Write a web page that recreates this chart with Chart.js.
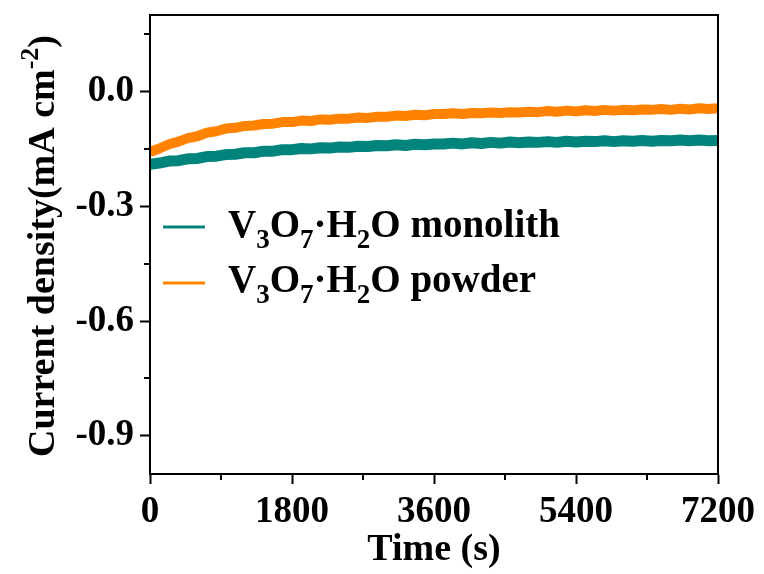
<!DOCTYPE html>
<html>
<head>
<meta charset="utf-8">
<script src="https://cdn.jsdelivr.net/npm/chart.js@4"></script>
<style>
  html, body { margin: 0; padding: 0; background: #fff; }
  #wrap { width: 764px; height: 574px; }
</style>
</head>
<body>
<div id="wrap"><canvas id="chart" width="764" height="574"></canvas></div>
<script>
// time axis (s)
const times = [0, 120, 240, 360, 480, 600, 720, 840, 960, 1080, 1200, 1320, 1440, 1560, 1680, 1800,
  1920, 2040, 2160, 2280, 2400, 2520, 2640, 2760, 2880, 3000, 3120, 3240, 3360, 3480, 3600,
  3720, 3840, 3960, 4080, 4200, 4320, 4440, 4560, 4680, 4800, 4920, 5040, 5160, 5280, 5400,
  5520, 5640, 5760, 5880, 6000, 6120, 6240, 6360, 6480, 6600, 6720, 6840, 6960, 7080, 7200];

// current density (mA cm-2)
const monolith = [-0.190, -0.187, -0.182, -0.181, -0.176, -0.175, -0.170, -0.169, -0.165, -0.164, -0.160, -0.160, -0.156, -0.156, -0.152, -0.152,
  -0.149, -0.150, -0.147, -0.148, -0.145, -0.146, -0.143, -0.144, -0.141, -0.142, -0.139, -0.141, -0.138, -0.139, -0.137,
  -0.137, -0.135, -0.137, -0.134, -0.136, -0.133, -0.135, -0.132, -0.134, -0.132, -0.133, -0.131, -0.133, -0.130, -0.132,
  -0.130, -0.131, -0.129, -0.131, -0.129, -0.130, -0.128, -0.130, -0.128, -0.129, -0.127, -0.129, -0.127, -0.129, -0.128];

const powder = [-0.158, -0.149, -0.138, -0.131, -0.122, -0.117, -0.108, -0.104, -0.097, -0.095, -0.090, -0.089, -0.085, -0.084, -0.080, -0.080,
  -0.076, -0.077, -0.073, -0.074, -0.071, -0.071, -0.068, -0.069, -0.066, -0.066, -0.063, -0.064, -0.061, -0.062, -0.059,
  -0.059, -0.057, -0.059, -0.056, -0.057, -0.055, -0.056, -0.054, -0.055, -0.053, -0.054, -0.051, -0.053, -0.050, -0.052,
  -0.049, -0.051, -0.048, -0.050, -0.048, -0.049, -0.047, -0.048, -0.046, -0.048, -0.045, -0.047, -0.044, -0.046, -0.044];

const xTicks = [0, 1800, 3600, 5400, 7200];
const xMinor = [900, 2700, 4500, 6300];
const yTicks = [-0.9, -0.6, -0.3, 0.0];
const yMinor = [0.15, -0.15, -0.45, -0.75];

const teal = '#00847c';
const orange = '#ff8300';
const serif = "'Liberation Serif', 'Times New Roman', serif";

// draws text with sub/superscript pieces, returns width
function richText(ctx, parts, x, y, size, measureOnly) {
  let w = 0;
  parts.forEach(p => {
    const small = p[1] === 'sub' || p[1] === 'sup';
    ctx.font = 'bold ' + (small ? Math.round(size * 0.68) : size) + 'px ' + serif;
    let dy = 0;
    if (p[1] === 'sub') dy = size * 0.28;
    if (p[1] === 'sup') dy = -size * 0.42;
    if (!measureOnly) ctx.fillText(p[0], x + w, y + dy);
    w += ctx.measureText(p[0]).width;
  });
  return w;
}

const extras = {
  id: 'extras',
  afterDraw(chart) {
    const ctx = chart.ctx;
    const a = chart.chartArea;
    const xs = chart.scales.x, ys = chart.scales.y;
    ctx.save();
    ctx.strokeStyle = '#000';
    ctx.lineWidth = 2;
    ctx.strokeRect(a.left, a.top, a.right - a.left, a.bottom - a.top);

    // minor ticks
    ctx.beginPath();
    xMinor.forEach(v => {
      const px = Math.round(xs.getPixelForValue(v));
      ctx.moveTo(px, a.bottom); ctx.lineTo(px, a.bottom + 6);
    });
    yMinor.forEach(v => {
      const py = Math.round(ys.getPixelForValue(v));
      ctx.moveTo(a.left, py); ctx.lineTo(a.left - 6, py);
    });
    ctx.stroke();

    // legend
    ctx.textBaseline = 'alphabetic';
    ctx.textAlign = 'left';
    const rows = [
      { color: teal, lineY: 227, base: 237, parts: [['V'], ['3', 'sub'], ['O'], ['7', 'sub'], ['\u00b7H'], ['2', 'sub'], ['O monolith']] },
      { color: orange, lineY: 283, base: 292, parts: [['V'], ['3', 'sub'], ['O'], ['7', 'sub'], ['\u00b7H'], ['2', 'sub'], ['O powder']] }
    ];
    rows.forEach(r => {
      ctx.strokeStyle = r.color;
      ctx.lineWidth = 3;
      ctx.beginPath();
      ctx.moveTo(163, r.lineY); ctx.lineTo(205, r.lineY);
      ctx.stroke();
      ctx.fillStyle = '#000';
      richText(ctx, r.parts, 228, r.base, 39);
    });

    // x title
    ctx.font = 'bold 38px ' + serif;
    ctx.textAlign = 'center';
    ctx.fillStyle = '#000';
    ctx.fillText('Time (s)', (a.left + a.right) / 2, 560);

    // y title
    ctx.textAlign = 'left';
    const yParts = [['Current density(mA cm'], ['-2', 'sup'], [')']];
    ctx.translate(54, 246);
    ctx.rotate(-Math.PI / 2);
    const w = richText(ctx, yParts, 0, 0, 38, true);
    richText(ctx, yParts, -w / 2, 0, 38);
    ctx.restore();
  }
};

new Chart(document.getElementById('chart'), {
  type: 'line',
  data: {
    datasets: [{
      label: 'V3O7·H2O monolith',
      data: times.map((t, i) => ({ x: t, y: monolith[i] })),
      borderColor: teal,
      borderWidth: 11,
      borderJoinStyle: 'round',
      pointRadius: 0,
      tension: 0
    }, {
      label: 'V3O7·H2O powder',
      data: times.map((t, i) => ({ x: t, y: powder[i] })),
      borderColor: orange,
      borderWidth: 10,
      borderJoinStyle: 'round',
      pointRadius: 0,
      tension: 0
    }]
  },
  options: {
    responsive: false,
    animation: false,
    devicePixelRatio: 1,
    layout: { padding: { left: 0, top: 15, right: 46, bottom: 0 } },
    plugins: {
      legend: { display: false },
      tooltip: { enabled: false }
    },
    scales: {
      x: {
        type: 'linear',
        min: 0,
        max: 7200,
        afterFit: s => { s.height = 100; s.paddingLeft = 0; s.paddingRight = 0; },
        afterBuildTicks: s => { s.ticks = xTicks.map(v => ({ value: v })); },
        grid: { drawOnChartArea: false, tickLength: 10, tickWidth: 2, tickColor: '#000' },
        border: { color: '#000', width: 2 },
        ticks: {
          color: '#000',
          padding: 6,
          maxRotation: 0,
          autoSkip: false,
          font: { family: serif, size: 37, weight: 'bold' },
          callback: v => String(v)
        }
      },
      y: {
        min: -1.0,
        max: 0.2,
        afterFit: s => { s.width = 150; s.paddingTop = 0; s.paddingBottom = 0; },
        afterBuildTicks: s => { s.ticks = yTicks.map(v => ({ value: v })); },
        grid: { drawOnChartArea: false, tickLength: 10, tickWidth: 2, tickColor: '#000' },
        border: { color: '#000', width: 2 },
        ticks: {
          color: '#000',
          padding: 6,
          autoSkip: false,
          font: { family: serif, size: 37, weight: 'bold' },
          callback: v => v.toFixed(1)
        }
      }
    }
  },
  plugins: [extras]
});
</script>
</body>
</html>
